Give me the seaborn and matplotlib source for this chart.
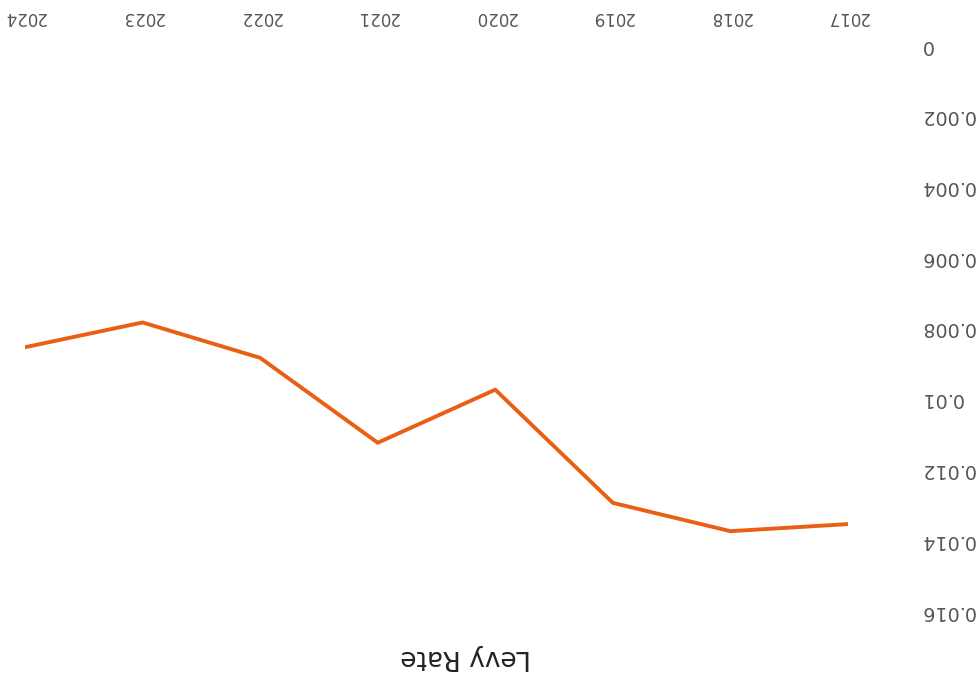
import matplotlib
matplotlib.use("Agg")
import matplotlib.pyplot as plt
import seaborn as sns
import pandas as pd

years = [2017, 2018, 2019, 2020, 2021, 2022, 2023, 2024]
levy_rate = [0.0136, 0.0138, 0.0130, 0.0098, 0.0113, 0.0089, 0.0079, 0.0086]
y_ticks = [0, 0.002, 0.004, 0.006, 0.008, 0.01, 0.012, 0.014, 0.016]
y_tick_labels = ["0", "0.002", "0.004", "0.006", "0.008", "0.01", "0.012", "0.014", "0.016"]
title = "Levy Rate"

sns.set_style("white")
plt.rcParams["font.family"] = ["DejaVu Sans"]

df = pd.DataFrame({"year": years, "rate": levy_rate})

fig = plt.figure(figsize=(9.8, 6.77), dpi=100)
# axes placed so that the page reads as the scan: rotated by 180 degrees
ax = fig.add_axes([25 / 980, 1 - 609 / 677, (848 - 25) / 980, (609 - 43) / 677])

sns.lineplot(data=df, x="year", y="rate", ax=ax, color="#ea5f14", linewidth=2.8)

ax.set_xlim(2024, 2017)
ax.set_ylim(0.016, 0)
for s in ax.spines.values():
    s.set_visible(False)

ax.set_xticks(years)
ax.set_xticklabels([str(y) for y in years])
ax.set_yticks(y_ticks)
ax.set_yticklabels(y_tick_labels)
ax.xaxis.tick_top()
ax.yaxis.tick_right()
ax.tick_params(axis="x", length=0, pad=12, labelsize=12, labelrotation=180, labelcolor="#555555")
ax.tick_params(axis="y", length=0, pad=52, labelsize=13.8, labelrotation=180, labelcolor="#555555")
ax.set_xlabel("")
ax.set_ylabel("")

fig.text(466 / 980, 1 - 657 / 677, title, rotation=180, ha="center", va="center",
         fontsize=19, color="#222222")

fig.savefig("out.png", dpi=100, facecolor="white")
